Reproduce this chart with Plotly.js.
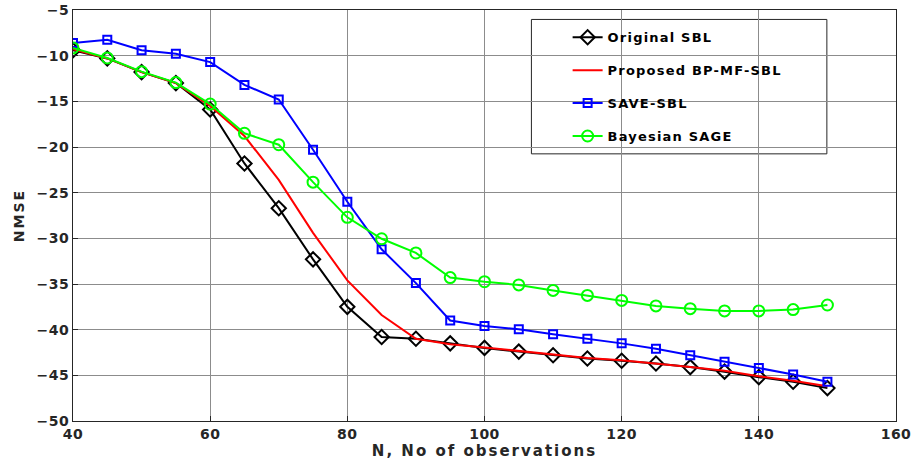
<!DOCTYPE html>
<html>
<head>
<meta charset="utf-8">
<script src="https://cdn.plot.ly/plotly-3.0.1.min.js"></script>
<style>
html,body{margin:0;padding:0;background:#fff}
#chart{width:914px;height:461px}
.legendtext{letter-spacing:1.2px}
.xtitle{letter-spacing:2px}
.ytitle{letter-spacing:2px}
.xtick text,.ytick text{letter-spacing:0.5px}
</style>
</head>
<body>
<div id="chart"></div>
<script>
const N = [40,45,50,55,60,65,70,75,80,85,90,95,100,105,110,115,120,125,130,135,140,145,150];
const originalSBL = [-9.4,-10.3,-11.8,-13.0,-15.9,-21.8,-26.7,-32.3,-37.5,-40.8,-41.0,-41.5,-42.0,-42.4,-42.8,-43.15,-43.4,-43.7,-44.1,-44.6,-45.2,-45.7,-46.4];
const proposedBPMF = [-9.3,-10.3,-11.8,-13.0,-15.5,-18.8,-23.6,-29.4,-34.6,-38.4,-41.0,-41.6,-41.95,-42.35,-42.75,-43.1,-43.35,-43.7,-44.1,-44.5,-45.1,-45.6,-46.2];
const saveSBL = [-8.6,-8.25,-9.4,-9.8,-10.7,-13.2,-14.8,-20.3,-26.0,-31.2,-34.9,-39.0,-39.6,-39.95,-40.5,-41.0,-41.5,-42.1,-42.8,-43.5,-44.2,-44.9,-45.7];
const bayesianSAGE = [-9.15,-10.25,-11.75,-12.95,-15.3,-18.5,-19.75,-23.85,-27.7,-30.05,-31.6,-34.3,-34.75,-35.1,-35.7,-36.25,-36.8,-37.4,-37.7,-37.95,-37.95,-37.8,-37.3];
const names = ['Original SBL','Proposed BP-MF-SBL','SAVE-SBL','Bayesian SAGE'];

const traces = [
  {x:N, y:originalSBL, name:names[0], legendgroup:'a', mode:'lines+markers',
   line:{color:'#000000', width:2}, marker:{symbol:'diamond-open', size:11, color:'#000000', line:{width:2}}},
  {x:N, y:proposedBPMF, name:names[1], legendgroup:'b', mode:'lines',
   line:{color:'#ff0000', width:2}},
  {x:N, y:saveSBL, name:names[2], legendgroup:'c', mode:'lines+markers',
   line:{color:'#0000ff', width:2}, marker:{symbol:'square-open', size:8, color:'#0000ff', line:{width:2}}},
  {x:N, y:bayesianSAGE, name:names[3], legendgroup:'d', mode:'lines+markers',
   line:{color:'#00ff00', width:2}, marker:{symbol:'circle-open', size:11, color:'#00ff00', line:{width:2}}}
];

const fontFam = 'DejaVu Sans, sans-serif';
const txt = '#262626';
const layout = {
  width:914, height:461,
  margin:{l:73, r:18, t:10, b:40},
  paper_bgcolor:'#ffffff', plot_bgcolor:'#ffffff',
  font:{family:fontFam, color:txt, size:14, weight:'bold'},
  showlegend:true,
  xaxis:{range:[40,160], tickvals:[40,60,80,100,120,140,160], showgrid:true, gridcolor:'#8c8c8c', gridwidth:1,
    zeroline:false, showline:true, linecolor:txt, linewidth:1, mirror:true,
    ticks:'inside', ticklen:5, tickcolor:txt,
    tickfont:{family:fontFam, size:14, weight:'bold', color:txt},
    title:{text:'N, No of observations', font:{family:fontFam, size:15, weight:'bold', color:txt}, standoff:0}},
  yaxis:{range:[-50,-5], tickvals:[-50,-45,-40,-35,-30,-25,-20,-15,-10,-5], showgrid:true, gridcolor:'#8c8c8c', gridwidth:1,
    zeroline:false, showline:true, linecolor:txt, linewidth:1, mirror:true,
    ticks:'inside', ticklen:5, tickcolor:txt,
    tickfont:{family:fontFam, size:14, weight:'bold', color:txt},
    title:{text:'NMSE', font:{family:fontFam, size:14, weight:'bold', color:txt}, standoff:8}},
  legend:{x:0.601, y:0.97, xanchor:'left', yanchor:'top', bgcolor:'rgba(0,0,0,0)', borderwidth:0,
    tracegroupgap:13, font:{family:fontFam, size:13, weight:'bold', color:'#000000'}},
  shapes:[{type:'rect', xref:'paper', yref:'paper', x0:0.557, x1:0.916, y0:0.650, y1:0.977,
    fillcolor:'#ffffff', line:{color:txt, width:1}, layer:'below'}]
};
Plotly.newPlot('chart', traces, layout, {displayModeBar:false, staticPlot:true});
</script>
</body>
</html>
